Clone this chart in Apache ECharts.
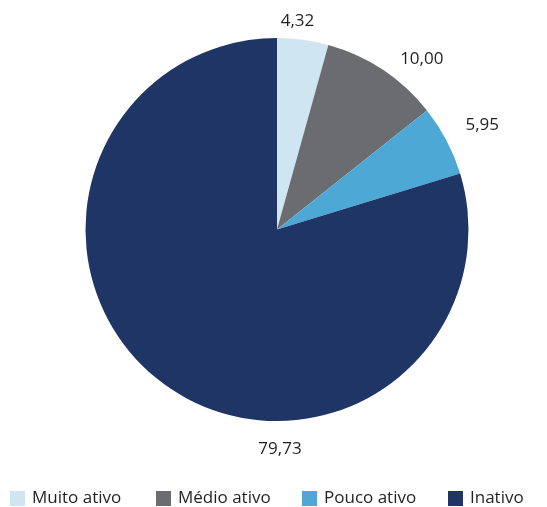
<!DOCTYPE html>
<html>
<head>
<meta charset="utf-8">
<style>
  html, body { margin: 0; padding: 0; background: #ffffff; }
  #chart { width: 547px; height: 507px; }
</style>
<script src="https://cdn.jsdelivr.net/npm/echarts@6/dist/echarts.min.js"></script>
</head>
<body>
<div id="chart"></div>
<script>
// Activity level shares (%)
const categories = ['Muito ativo', 'Médio ativo', 'Pouco ativo', 'Inativo'];
const shares = [4.32, 10.00, 5.95, 79.73];
const colors = ['#cfe5f1', '#6b6c70', '#4ea8d6', '#1f3566'];

const FONT = '"Open Sans", "Noto Sans", sans-serif';
const TEXT = '#231f20';
const CENTER = [277, 229.5];
const RADIUS = 191.5;

// small hand tweaks applied on top of the radial label placement
const LABEL_NUDGE = [[-8, 0], [24, 12], [12, -3]];

// legend entries sit in evenly spaced columns along the bottom
const LEGEND_LEFT = 10;
const LEGEND_STEP = 146;

const total = shares.reduce((a, b) => a + b, 0);

// mid-angle of each slice, measured clockwise from 12 o'clock
function midAngle(i) {
  let before = 0;
  for (let k = 0; k < i; k++) before += shares[k];
  return ((before + shares[i] / 2) / total) * Math.PI * 2;
}

const legends = categories.map((name, i) => ({
  top: 490,
  left: LEGEND_LEFT + i * LEGEND_STEP,
  padding: 0,
  itemWidth: 15,
  itemHeight: 15,
  icon: 'rect',
  selectedMode: false,
  textStyle: { fontFamily: FONT, fontSize: 17, color: TEXT, padding: [0, 0, 0, 2] },
  data: [name]
}));

const chart = echarts.init(document.getElementById('chart'), null, { renderer: 'canvas' });

chart.setOption({
  animation: false,
  color: colors,
  legend: legends,
  series: [{
    type: 'pie',
    center: CENTER,
    radius: RADIUS,
    startAngle: 90,
    clockwise: true,
    avoidLabelOverlap: false,
    silent: true,
    itemStyle: { borderWidth: 0 },
    label: {
      show: true,
      position: 'outside',
      fontFamily: FONT,
      fontSize: 17,
      color: TEXT,
      formatter: p => p.value.toFixed(2).replace('.', ',')
    },
    labelLine: { show: false },
    labelLayout: function (params) {
      const i = params.dataIndex;
      if (i === shares.length - 1) {
        // the large slice is labelled just beneath the pie
        return {
          x: CENTER[0] + 3,
          y: CENTER[1] + RADIUS + 28,
          align: 'center',
          verticalAlign: 'middle'
        };
      }
      const w = params.labelRect.width / 2;
      const h = params.labelRect.height / 2;
      const a = midAngle(i);
      const d = RADIUS + 8 + w * Math.abs(Math.sin(a)) + h * Math.abs(Math.cos(a));
      return {
        x: CENTER[0] + d * Math.sin(a) + LABEL_NUDGE[i][0],
        y: CENTER[1] - d * Math.cos(a) + LABEL_NUDGE[i][1],
        align: 'center',
        verticalAlign: 'middle'
      };
    },
    data: categories.map((name, i) => ({ name: name, value: shares[i] }))
  }]
});
</script>
</body>
</html>
